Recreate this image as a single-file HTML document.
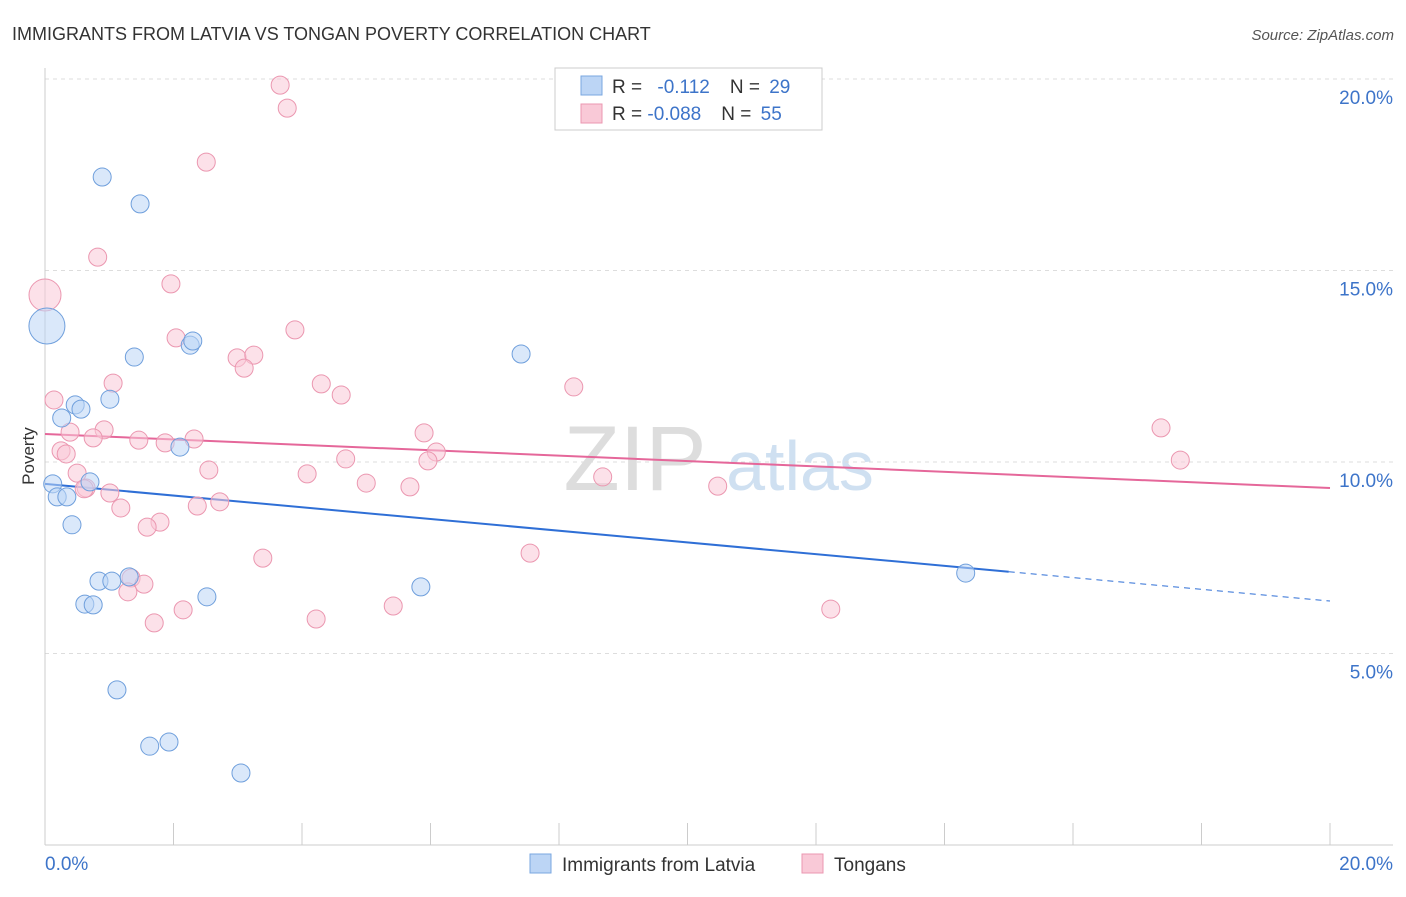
<!DOCTYPE html>
<html><head><meta charset="utf-8"><style>
body{margin:0;background:#fff;font-family:"Liberation Sans",sans-serif}
svg text{font-family:"Liberation Sans",sans-serif}
</style></head><body>
<svg id="c" width="1406" height="892">
<text x="12" y="40" font-size="18" fill="#333">IMMIGRANTS FROM LATVIA VS TONGAN POVERTY CORRELATION CHART</text>
<text x="1394" y="40" font-size="15" fill="#555" font-style="italic" text-anchor="end">Source: ZipAtlas.com</text>
<text x="34" y="456" font-size="17" fill="#333" transform="rotate(-90 34 456)" text-anchor="middle">Poverty</text>
<g><text x="635" y="490" font-size="92" fill="#ddd" font-family="Liberation Serif" text-anchor="middle">ZIP</text><text x="800" y="490" font-size="70" fill="#cfe0f1" text-anchor="middle">atlas</text></g>
<g id="grid"></g><g id="axes"></g><g id="lines"></g><g id="pts"></g>
<g>
<rect x="555" y="68" width="267" height="62" fill="#fff" stroke="#ccc"/>
<rect x="581" y="76" width="21" height="19" fill="#bcd5f5" stroke="#7aa7e0"/>
<text x="612" y="93" font-size="19" fill="#333">R = <tspan fill="#3d74c9" dx="10">-0.112</tspan><tspan fill="#333" dx="20">N = </tspan><tspan fill="#3d74c9" dx="4">29</tspan></text>
<rect x="581" y="104" width="21" height="19" fill="#f9c9d7" stroke="#eb97b0"/>
<text x="612" y="120" font-size="19" fill="#333">R = <tspan fill="#3d74c9">-0.088</tspan><tspan fill="#333" dx="20">N = </tspan><tspan fill="#3d74c9" dx="4">55</tspan></text>
</g>
<g>
<rect x="530" y="854" width="21" height="19" fill="#bcd5f5" stroke="#7aa7e0"/>
<text x="562" y="871" font-size="19" fill="#333">Immigrants from Latvia</text>
<rect x="802" y="854" width="21" height="19" fill="#f9c9d7" stroke="#eb97b0"/>
<text x="834" y="871" font-size="19" fill="#333">Tongans</text>
</g>
</svg>
<script>
const yTicks=[5,10,15,20];
const yTickLabels=["5.0%","10.0%","15.0%","20.0%"];
const latviaX=[0.03,0.89,1.48,0.12,0.19,0.34,0.26,0.47,0.56,1.01,1.39,2.26,2.30,2.10,0.42,0.70,0.84,1.04,1.31,0.62,0.75,2.52,1.12,1.63,1.93,3.05,5.85,7.41,14.33];
const latviaY=[13.55,17.44,16.74,9.43,9.09,9.09,11.15,11.49,11.38,11.64,12.74,13.05,13.16,10.39,8.36,9.48,6.89,6.89,7.00,6.29,6.27,6.48,4.05,2.58,2.69,1.88,6.74,12.82,7.10];
const tonganX=[0,3.66,3.77,2.51,0.82,1.96,3.89,2.04,2.99,3.25,3.10,1.06,4.30,4.61,0.14,8.23,0.39,0.92,0.75,1.46,1.87,2.32,0.25,0.33,5.90,6.09,5.96,4.68,2.55,0.50,4.08,0.64,0.61,1.01,5.00,5.68,8.68,10.47,2.72,1.18,2.37,1.79,1.59,17.37,17.67,3.39,7.55,1.34,1.54,1.29,2.15,1.70,4.22,5.42,12.23];
const tonganY=[14.36,19.84,19.24,17.83,15.35,14.65,13.45,13.24,12.72,12.79,12.45,12.06,12.04,11.75,11.62,11.96,10.78,10.84,10.63,10.57,10.50,10.60,10.29,10.21,10.76,10.26,10.03,10.08,9.79,9.71,9.69,9.32,9.30,9.19,9.45,9.35,9.61,9.37,8.96,8.80,8.85,8.43,8.30,10.89,10.05,7.49,7.62,6.97,6.81,6.61,6.14,5.80,5.90,6.24,6.16];
const latviaTrend=[9.43,6.37];
const tonganTrend=[10.73,9.32];
const NS="http://www.w3.org/2000/svg";
const X=v=>45+v*64.25, Y=v=>845-v*38.3;
function mk(t,p,a){const e=document.createElementNS(NS,t);for(const k in a)e.setAttribute(k,a[k]);p.appendChild(e);return e;}
const g=document.getElementById('grid');
yTicks.forEach((t,i)=>{
 const l=mk('line',g,{x1:45,x2:1393,y1:Y(t),y2:Y(t),stroke:'#ddd','stroke-dasharray':'4,4'});
 
 
 const tx=mk('text',g,{x:1393,y:Y(t)+25,'font-size':19,fill:'#3d74c9','text-anchor':'end'});
 tx.textContent=yTickLabels[i];
 
 
});
const ax=document.getElementById('axes');
mk('line',ax,{x1:45,x2:45,y1:68,y2:845,stroke:'#ccc'});
mk('line',ax,{x1:45,x2:1393,y1:845,y2:845,stroke:'#ccc'});
for(let i=0;i<=10;i++){const l=mk('line',ax,{x1:X(i*2),x2:X(i*2),y1:823,y2:845,stroke:'#ccc'});
 
 }
let t0=mk('text',ax,{x:45,y:870,'font-size':19,fill:'#3d74c9'});t0.textContent='0.0%';


let t1=mk('text',ax,{x:1393,y:870,'font-size':19,fill:'#3d74c9','text-anchor':'end'});t1.textContent='20.0%';


const pg=document.getElementById('pts');
function pts(xs,ys,fill,stroke,name){xs.forEach((x,i)=>{
 const r=(i===0&&x<0.1)?(name==='latvia-point'?18:16):9;
 const c=mk('circle',pg,{cx:X(x),cy:Y(ys[i]),r:r,fill:fill,'fill-opacity':0.55,stroke:stroke,'stroke-width':1});
 
 });}
pts(tonganX,tonganY,'#f9c9d7','#eb97b0','tongan-point');
pts(latviaX,latviaY,'#bcd5f5','#6f9fdc','latvia-point');
const lg=document.getElementById('lines');
const lt=v=>latviaTrend[0]+(latviaTrend[1]-latviaTrend[0])*v/20;
let a=mk('line',lg,{x1:X(0),y1:Y(lt(0)),x2:X(15),y2:Y(lt(15)),stroke:'#2f6fd6','stroke-width':2});


let b=mk('line',lg,{x1:X(15),y1:Y(lt(15)),x2:X(20),y2:Y(lt(20)),stroke:'#2f6fd6','stroke-width':1,'stroke-dasharray':'6,5'});


let p=mk('line',lg,{x1:X(0),y1:Y(tonganTrend[0]),x2:X(20),y2:Y(tonganTrend[1]),stroke:'#e5679a','stroke-width':2});


</script>
</body></html>
